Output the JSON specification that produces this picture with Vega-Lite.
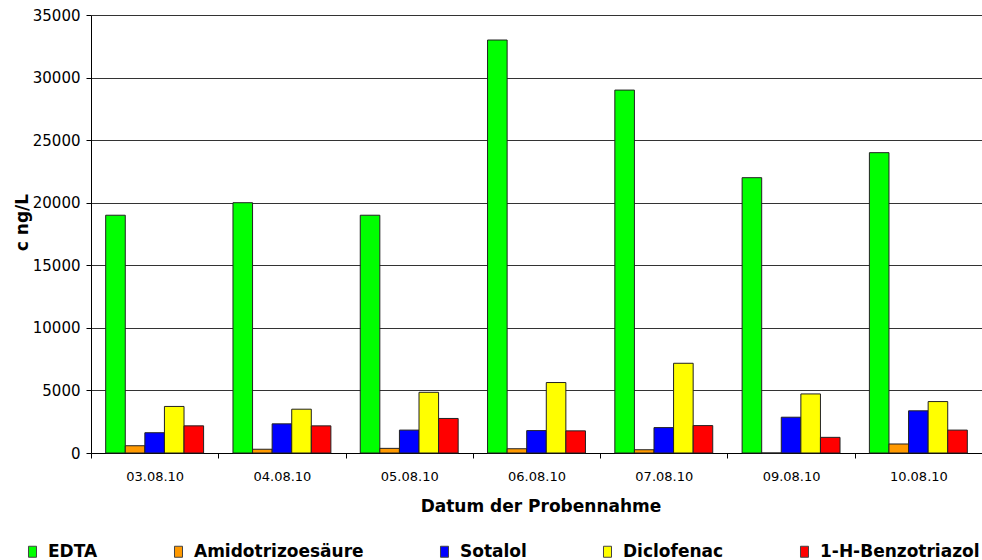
{
  "$schema": "https://vega.github.io/schema/vega-lite/v6.json",
  "autosize": {"type": "none"},
  "padding": {"left": 91, "top": 15, "right": 0, "bottom": 107},
  "width": 891,
  "height": 438,
  "background": "white",
  "config": {
    "view": {"stroke": null},
    "font": "DejaVu Sans"
  },
  "data": {
    "values": [
      {"datum": "03.08.10", "stoff": "EDTA", "c": 19000},
      {"datum": "03.08.10", "stoff": "Amidotrizoesäure", "c": 580},
      {"datum": "03.08.10", "stoff": "Sotalol", "c": 1620},
      {"datum": "03.08.10", "stoff": "Diclofenac", "c": 3720},
      {"datum": "03.08.10", "stoff": "1-H-Benzotriazol", "c": 2170},
      {"datum": "04.08.10", "stoff": "EDTA", "c": 20000},
      {"datum": "04.08.10", "stoff": "Amidotrizoesäure", "c": 300},
      {"datum": "04.08.10", "stoff": "Sotalol", "c": 2330},
      {"datum": "04.08.10", "stoff": "Diclofenac", "c": 3500},
      {"datum": "04.08.10", "stoff": "1-H-Benzotriazol", "c": 2170},
      {"datum": "05.08.10", "stoff": "EDTA", "c": 19000},
      {"datum": "05.08.10", "stoff": "Amidotrizoesäure", "c": 370},
      {"datum": "05.08.10", "stoff": "Sotalol", "c": 1830},
      {"datum": "05.08.10", "stoff": "Diclofenac", "c": 4850},
      {"datum": "05.08.10", "stoff": "1-H-Benzotriazol", "c": 2760},
      {"datum": "06.08.10", "stoff": "EDTA", "c": 33000},
      {"datum": "06.08.10", "stoff": "Amidotrizoesäure", "c": 340},
      {"datum": "06.08.10", "stoff": "Sotalol", "c": 1790},
      {"datum": "06.08.10", "stoff": "Diclofenac", "c": 5630},
      {"datum": "06.08.10", "stoff": "1-H-Benzotriazol", "c": 1770},
      {"datum": "07.08.10", "stoff": "EDTA", "c": 29000},
      {"datum": "07.08.10", "stoff": "Amidotrizoesäure", "c": 260},
      {"datum": "07.08.10", "stoff": "Sotalol", "c": 2030},
      {"datum": "07.08.10", "stoff": "Diclofenac", "c": 7170},
      {"datum": "07.08.10", "stoff": "1-H-Benzotriazol", "c": 2190},
      {"datum": "09.08.10", "stoff": "EDTA", "c": 22000},
      {"datum": "09.08.10", "stoff": "Amidotrizoesäure", "c": 0},
      {"datum": "09.08.10", "stoff": "Sotalol", "c": 2860},
      {"datum": "09.08.10", "stoff": "Diclofenac", "c": 4720},
      {"datum": "09.08.10", "stoff": "1-H-Benzotriazol", "c": 1250},
      {"datum": "10.08.10", "stoff": "EDTA", "c": 24000},
      {"datum": "10.08.10", "stoff": "Amidotrizoesäure", "c": 720},
      {"datum": "10.08.10", "stoff": "Sotalol", "c": 3370},
      {"datum": "10.08.10", "stoff": "Diclofenac", "c": 4110},
      {"datum": "10.08.10", "stoff": "1-H-Benzotriazol", "c": 1830}
    ]
  },
  "mark": {"type": "bar", "stroke": "#222222", "strokeWidth": 1},
  "encoding": {
    "x": {
      "field": "datum",
      "type": "nominal",
      "sort": null,
      "scale": {"paddingInner": 0, "paddingOuter": 0},
      "axis": {
        "title": "Datum der Probennahme",
        "titleFont": "DejaVu Sans",
        "titleFontSize": 17,
        "titleFontWeight": "bold",
        "titleColor": "black",
        "titleBaseline": "alphabetic",
        "titleX": 449.5,
        "titleY": 58,
        "labelAngle": 0,
        "labelFont": "DejaVu Sans",
        "labelFontSize": 13,
        "labelColor": "black",
        "labelPadding": 12,
        "tickBand": "extent",
        "tickSize": 5,
        "tickColor": "black",
        "domainColor": "black",
        "grid": false
      }
    },
    "xOffset": {
      "field": "stoff",
      "type": "nominal",
      "sort": ["EDTA", "Amidotrizoesäure", "Sotalol", "Diclofenac", "1-H-Benzotriazol"],
      "scale": {"paddingInner": 0, "paddingOuter": 0.75}
    },
    "y": {
      "field": "c",
      "type": "quantitative",
      "scale": {"domain": [0, 35000], "nice": false},
      "axis": {
        "title": "c ng/L",
        "titleFont": "DejaVu Sans",
        "titleFontSize": 17,
        "titleFontWeight": "bold",
        "titleColor": "black",
        "titleBaseline": "alphabetic",
        "titleAngle": 270,
        "titleX": -64,
        "titleY": 207,
        "values": [0, 5000, 10000, 15000, 20000, 25000, 30000, 35000],
        "format": "d",
        "labelFont": "DejaVu Sans",
        "labelFontSize": 15,
        "labelColor": "black",
        "labelPadding": 6,
        "tickSize": 5,
        "tickColor": "black",
        "domainColor": "black",
        "grid": true,
        "gridColor": "#333333",
        "gridWidth": 1
      }
    },
    "color": {
      "field": "stoff",
      "type": "nominal",
      "scale": {
        "domain": ["EDTA", "Amidotrizoesäure", "Sotalol", "Diclofenac", "1-H-Benzotriazol"],
        "range": ["#00ff00", "#ff9900", "#0000ff", "#ffff00", "#ff0000"]
      },
      "legend": {
        "title": null,
        "orient": "none",
        "direction": "horizontal",
        "columns": 5,
        "columnPadding": 72,
        "legendX": -67,
        "legendY": 528,
        "padding": 0,
        "symbolType": "M-0.73,-1H0.73V1H-0.73Z",
        "symbolSize": 121,
        "symbolStrokeColor": "#444444",
        "symbolStrokeWidth": 1,
        "symbolOpacity": 1,
        "labelOffset": 7,
        "labelFont": "DejaVu Sans",
        "labelFontSize": 17,
        "labelFontWeight": "bold",
        "labelColor": "black",
        "labelLimit": 400
      }
    }
  }
}
